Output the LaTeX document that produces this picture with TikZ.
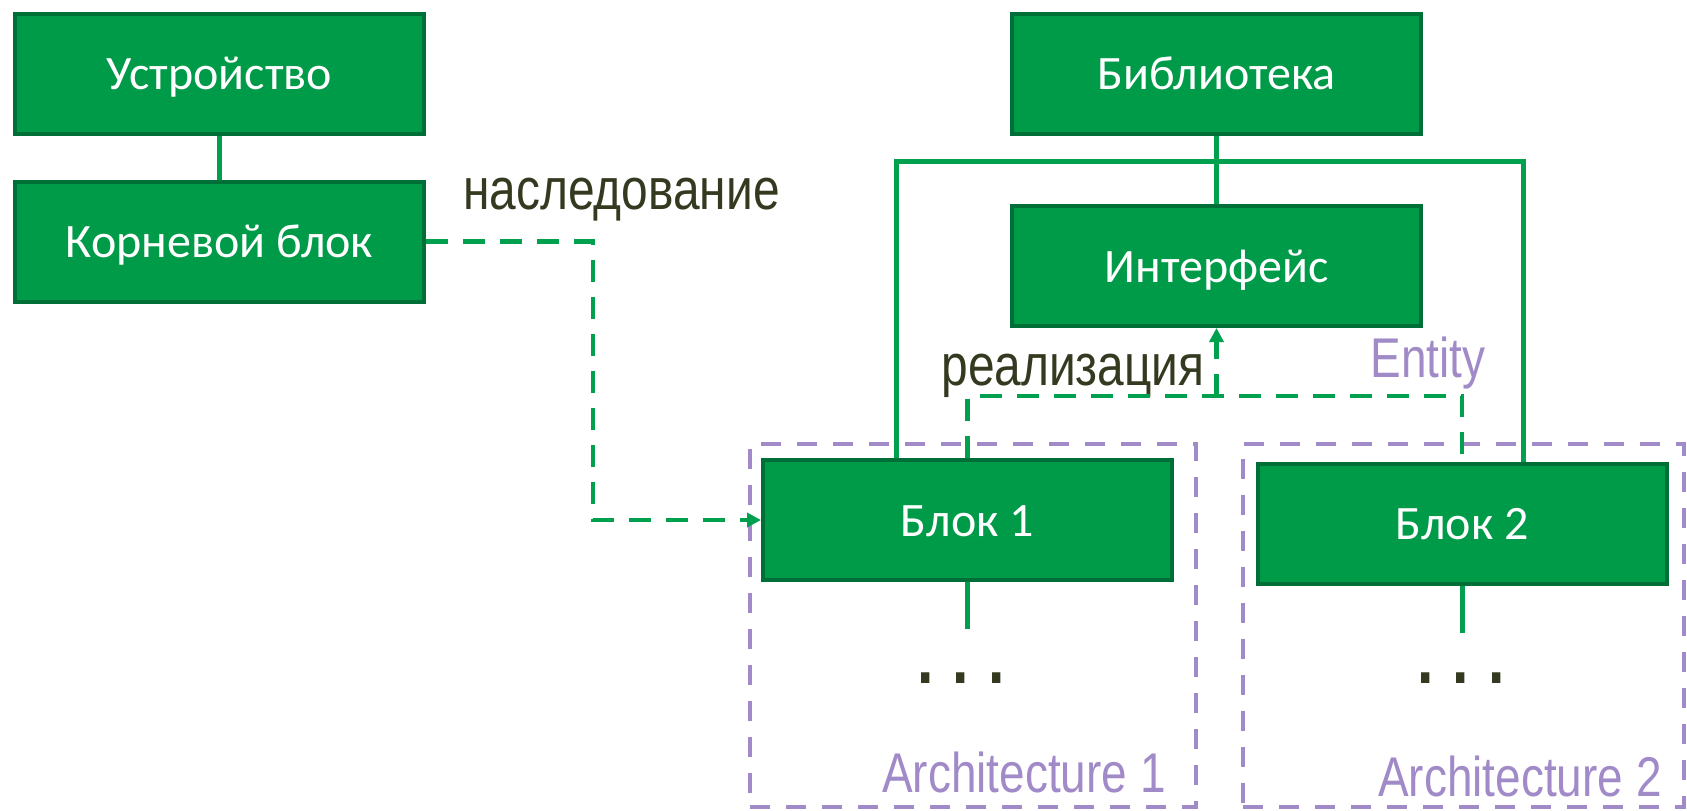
\documentclass[tikz,border=0pt]{standalone}
\usepackage{fontspec}
\setmainfont{Carlito}
\newfontfamily\labelfont[FakeStretch=0.82]{Liberation Sans}
\usetikzlibrary{arrows.meta}
\definecolor{boxgreen}{HTML}{009B48}
\definecolor{boxedge}{HTML}{006F37}
\definecolor{linkgreen}{HTML}{00A04E}
\definecolor{archpurple}{HTML}{A08AC8}
\definecolor{labeldark}{HTML}{333A1F}

\begin{document}
\begin{tikzpicture}[x=0.5pt,y=-0.5pt,
  block/.style={draw=boxedge, fill=boxgreen, line width=2pt,
    minimum width=204.5pt, minimum height=60pt, inner sep=0pt,
    text height=19pt, text depth=3pt,
    text=white, font=\fontsize{24}{28}\selectfont},
  link/.style={draw=linkgreen, line width=2.5pt},
  dashlink/.style={draw=linkgreen, line width=2.2pt, dash pattern=on 11pt off 7.5pt},
  tip/.style={-{Triangle[length=7pt,width=7pt]}},
  archbox/.style={draw=archpurple, line width=2pt, dash pattern=on 10pt off 8pt,
    inner sep=0pt},
  relation/.style={text=labeldark, inner sep=0pt, font=\labelfont\fontsize{29.2}{33}\selectfont},
  scope label/.style={text=archpurple, inner sep=0pt, font=\labelfont\fontsize{28}{32}\selectfont},
  ellipsis/.style={text=labeldark, inner sep=0pt, font=\labelfont\bfseries\fontsize{36}{40}\selectfont}
]
\useasboundingbox (0,0) rectangle (1687,810);

% architecture frames
\node[archbox, minimum width=223pt, minimum height=181.5pt] (arch1) at (973,625.5) {};
\node[archbox, minimum width=220.5pt, minimum height=181.5pt] (arch2) at (1463.5,625.5) {};

% blocks
\node[block] (dev)   at (219.5,73.5)  {Устройство};
\node[block] (root)  at (219.5,241.5) {Корневой блок};
\node[block] (lib)   at (1216.5,73.5) {Библиотека};
\node[block] (iface) at (1216.5,266)  {Интерфейс};
\node[block] (blk1)  at (967.5,520)   {Блок 1};
\node[block] (blk2)  at (1462,523.5)  {Блок 2};

% labels
\node[relation, anchor=base west] (inh) at (463,209) {наследование};
\node[relation, anchor=base west] (real) at (941,385) {реализация};
\node[scope label, anchor=base east] (ent) at (1486,377) {Entity};
\node[scope label, anchor=base east] (a1) at (1166,792) {Architecture 1};
\node[scope label, anchor=base east] (a2) at (1662,796) {Architecture 2};

% ellipses below the blocks
\node[ellipsis] (dots1) at (961,678) {.\hspace{9.5pt}.\hspace{9.5pt}.};
\node[ellipsis] (dots2) at (1461,678) {.\hspace{9.5pt}.\hspace{9.5pt}.};

% helper points
\coordinate (busL) at (896,161);
\coordinate (busR) at (1523,161);
\coordinate (rbar) at (0,396);
\coordinate (inhturn) at (593,0);
\coordinate (stub1) at (0,629);
\coordinate (stub2) at (0,633);

% solid links
\draw[link] (dev.south) -- (root.north);
\draw[link] (lib.south) -- (iface.north);
\draw[link] (blk1.north -| busL) -- (busL) -- (busR) -- (blk2.north -| busR);
\draw[link] (blk1.south) -- (blk1.south |- stub1);
\draw[link] (blk2.south) -- (blk2.south |- stub2);

% inheritance
\draw[dashlink, tip] (root.east) -- (root.east -| inhturn) -- (blk1.west -| inhturn) -- (blk1.west);

% realization
\draw[dashlink] (blk1.north) -- (blk1.north |- rbar) -- (blk2.north |- rbar) -- (blk2.north);
\draw[dashlink, tip] (iface.south |- rbar) -- (iface.south);
\end{tikzpicture}
\end{document}
